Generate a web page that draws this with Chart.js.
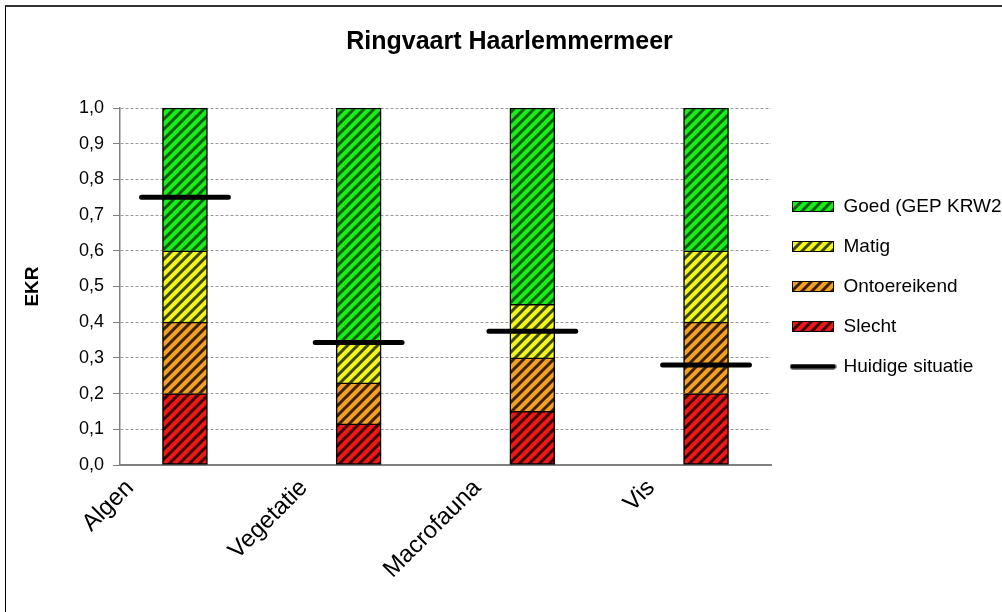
<!DOCTYPE html>
<html>
<head>
<meta charset="utf-8">
<title>Ringvaart Haarlemmermeer</title>
<script src="https://cdn.jsdelivr.net/npm/chart.js@4.4.1/dist/chart.umd.min.js"></script>
<style>
  html, body { margin: 0; padding: 0; background: #fff; }
  #frame {
    position: absolute; left: 5px; top: 5px; width: 997px; height: 607px;
    border-left: 1px solid #000; border-top: 2px solid #333; overflow: hidden;
  }
  #chart { display: block; }
</style>
</head>
<body>
<div id="frame"><canvas id="chart" width="996" height="605"></canvas></div>
<script>
const categories = ['Algen', 'Vegetatie', 'Macrofauna', 'Vis'];
const slecht = [0.2, 0.115, 0.15, 0.2];
const ontoereikend = [0.2, 0.115, 0.15, 0.2];
const matig = [0.2, 0.115, 0.15, 0.2];
const goed = [0.4, 0.655, 0.55, 0.4];
const huidigeSituatie = [0.75, 0.343, 0.375, 0.28];

const FONT = "'Liberation Sans', Arial, sans-serif";
const LINE_HALF = 0.25;

Chart.defaults.font.family = FONT;
Chart.defaults.color = '#000';

function hatchTile(base, stripe) {
  const c = document.createElement('canvas');
  c.width = 10;
  c.height = 10;
  const g = c.getContext('2d');
  g.fillStyle = base;
  g.fillRect(0, 0, 10, 10);
  g.strokeStyle = stripe;
  g.lineWidth = 3;
  g.beginPath();
  g.moveTo(-2, 12); g.lineTo(12, -2);
  g.moveTo(-2, 2); g.lineTo(2, -2);
  g.moveTo(8, 12); g.lineTo(12, 8);
  g.stroke();
  return c;
}

function boxSwatch(tile) {
  const c = document.createElement('canvas');
  c.width = 42;
  c.height = 11;
  const g = c.getContext('2d');
  g.fillStyle = g.createPattern(tile, 'repeat');
  g.fillRect(0, 0, 42, 11);
  g.strokeStyle = '#000';
  g.lineWidth = 1;
  g.strokeRect(0.5, 0.5, 41, 10);
  return c;
}

function lineSwatch() {
  const c = document.createElement('canvas');
  c.width = 47;
  c.height = 6;
  const g = c.getContext('2d');
  g.strokeStyle = '#000';
  g.lineWidth = 5;
  g.lineCap = 'round';
  g.beginPath();
  g.moveTo(3, 3);
  g.lineTo(44, 3);
  g.stroke();
  return c;
}

const ctx = document.getElementById('chart').getContext('2d');

const tiles = [
  hatchTile('#ee1818', '#3c0000'),
  hatchTile('#f0a024', '#3e2000'),
  hatchTile('#f5f51e', '#3a4a05'),
  hatchTile('#1aee1a', '#0b5e0b'),
];
const swatches = tiles.map(boxSwatch).concat([lineSwatch()]);

function barSet(label, values, i) {
  return {
    label,
    data: values.map((v, k) => ({ x: k, y: v })),
    backgroundColor: ctx.createPattern(tiles[i], 'repeat'),
    borderColor: '#000',
    borderWidth: 1.5,
    borderSkipped: i === 0 ? false : 'start',
    barThickness: 45,
    stack: 'ekr',
  };
}

const lineData = [];
huidigeSituatie.forEach((v, k) => {
  lineData.push({ x: k - LINE_HALF, y: v }, { x: k + LINE_HALF, y: v }, { x: k + 0.5, y: null });
});

new Chart(ctx, {
  type: 'bar',
  data: {
    datasets: [
      barSet('Slecht', slecht, 0),
      barSet('Ontoereikend', ontoereikend, 1),
      barSet('Matig', matig, 2),
      barSet('Goed (GEP KRW2)', goed, 3),
      {
        type: 'line',
        label: 'Huidige situatie',
        data: lineData,
        borderColor: '#000',
        borderWidth: 5,
        borderCapStyle: 'round',
        pointRadius: 0,
        fill: false,
        spanGaps: false,
        order: -1,
      },
    ],
  },
  options: {
    responsive: false,
    animation: false,
    events: [],
    layout: { padding: { left: 11, right: 0, top: 0, bottom: 0 } },
    plugins: {
      tooltip: { enabled: false },
      title: {
        display: true,
        text: 'Ringvaart Haarlemmermeer',
        color: '#000',
        font: { size: 25, weight: 'bold' },
        padding: { top: 20, bottom: 51 },
      },
      legend: {
        position: 'right',
        fullSize: false,
        maxWidth: 231,
        align: 'center',
        labels: {
          usePointStyle: true,
          pointStyleWidth: 42,
          padding: 21,
          color: '#000',
          font: { size: 19 },
          generateLabels: (chart) => [3, 2, 1, 0, 4].map((i) => ({
            text: chart.data.datasets[i].label,
            pointStyle: swatches[i],
            fillStyle: '#000',
            strokeStyle: '#000',
            fontColor: '#000',
            lineWidth: 0,
            hidden: false,
            datasetIndex: i,
          })),
        },
      },
    },
    scales: {
      x: {
        type: 'linear',
        min: -0.374,
        max: 3.374,
        offset: false,
        afterBuildTicks: (axis) => { axis.ticks = categories.map((c, i) => ({ value: i })); },
        afterFit: (axis) => { axis.height = 147; },
        grid: { display: false, drawTicks: false },
        border: { display: true, color: '#808080', width: 2 },
        ticks: {
          autoSkip: false,
          minRotation: 45,
          maxRotation: 45,
          padding: 9,
          labelOffset: -55,
          color: '#000',
          font: { size: 24 },
          callback: (value) => categories[value],
        },
      },
      y: {
        min: 0,
        max: 1,
        afterFit: (axis) => { axis.width = 103; },
        grid: {
          color: '#999',
          lineWidth: 1,
          tickLength: 7,
          tickColor: '#808080',
          tickBorderDash: [],
        },
        border: { display: true, color: '#808080', width: 1.5, dash: [3, 2] },
        ticks: {
          stepSize: 0.1,
          padding: 9,
          color: '#000',
          font: { size: 18 },
          callback: (v) => v.toFixed(1).replace('.', ','),
        },
        title: {
          display: true,
          text: 'EKR',
          color: '#000',
          font: { size: 19, weight: 'bold' },
          padding: { top: 4, bottom: 0 },
        },
      },
    },
  },
});
</script>
</body>
</html>
